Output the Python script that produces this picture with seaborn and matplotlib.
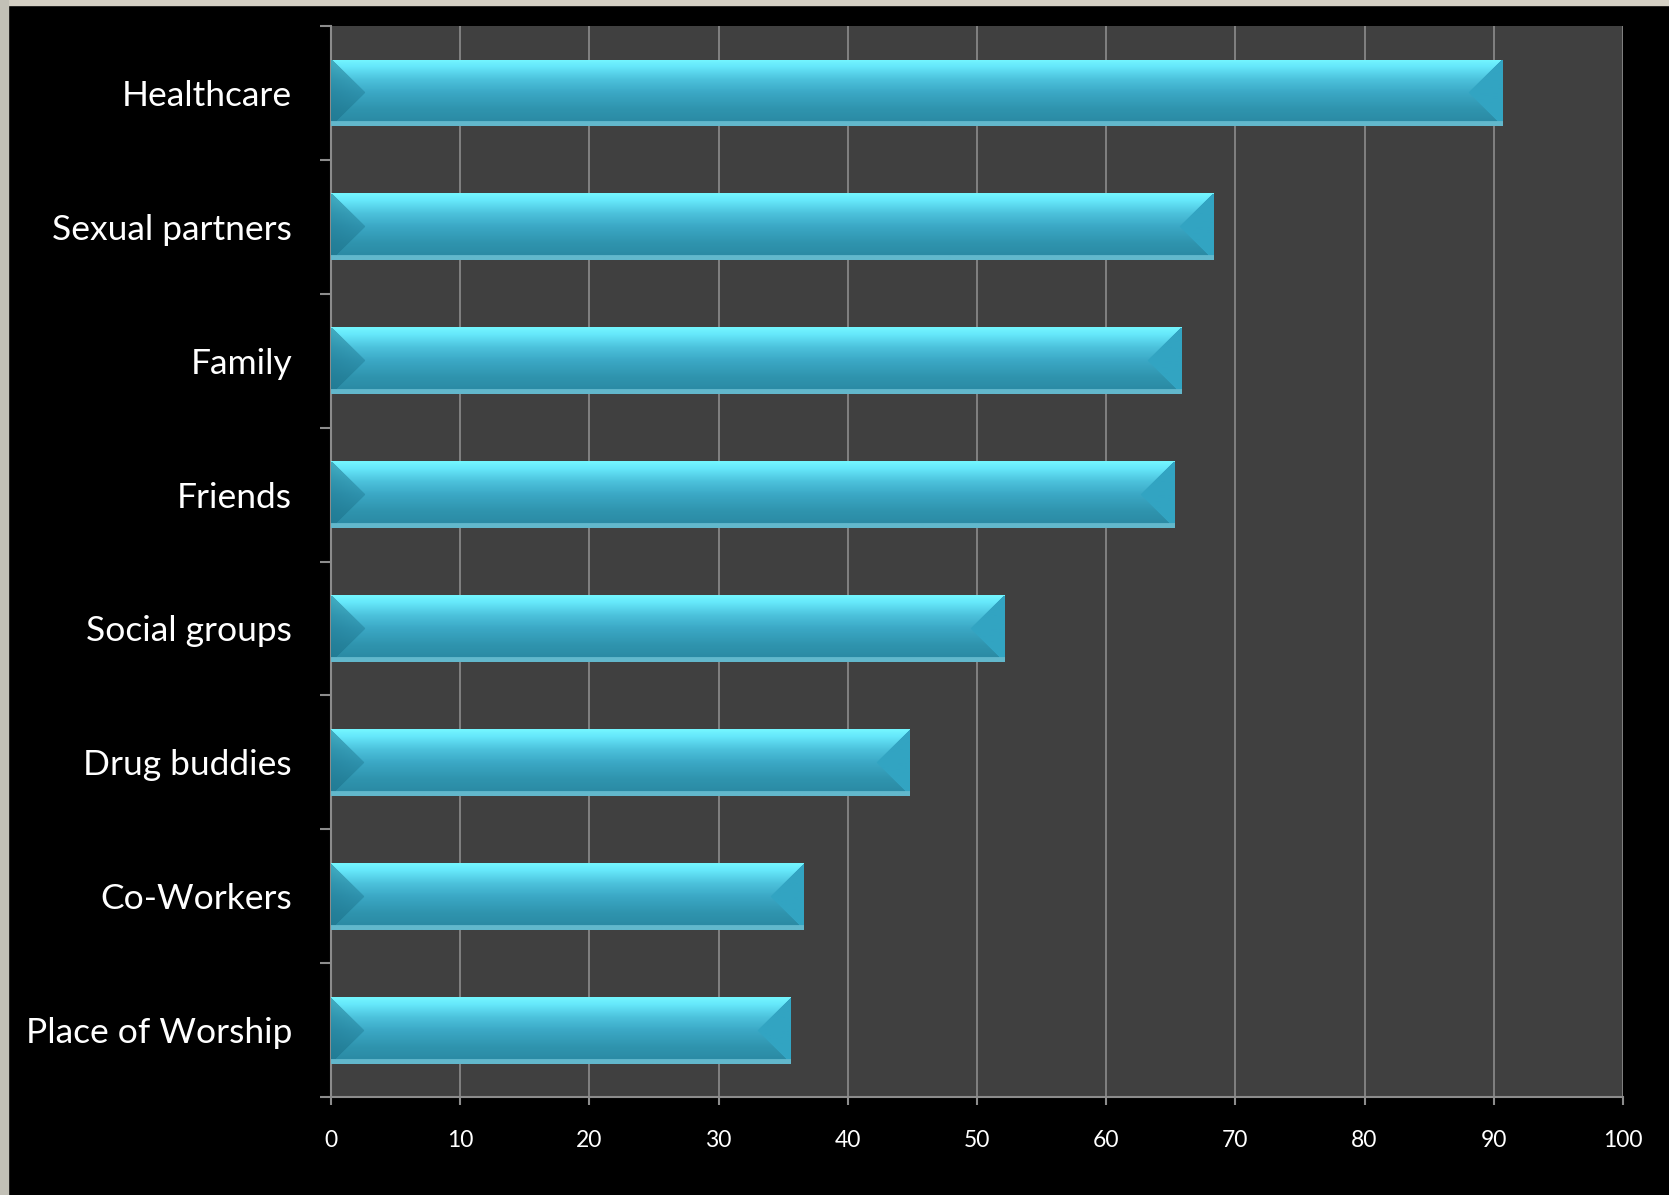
import numpy as np
import pandas as pd
import matplotlib
matplotlib.use("Agg")
import matplotlib.pyplot as plt
from matplotlib.colors import LinearSegmentedColormap, to_rgb
from matplotlib.patches import Rectangle
import seaborn as sns

# values
categories = ["Healthcare", "Sexual partners", "Family", "Friends",
              "Social groups", "Drug buddies", "Co-Workers", "Place of Worship"]
values = [90.7, 68.3, 65.8, 65.3, 52.1, 44.8, 36.6, 35.6]
x_ticks = [0, 10, 20, 30, 40, 50, 60, 70, 80, 90, 100]

data = pd.DataFrame({"source": categories, "value": values})

sns.set_style("dark")
plt.rcParams["font.family"] = ["Lato", "DejaVu Sans"]

fig = plt.figure(figsize=(16.69, 11.95), dpi=100, facecolor="black")
ax = fig.add_axes([0.1983, 0.0820, 0.9724 - 0.1983, 0.9782 - 0.0820])
ax.set_facecolor("#404040")

sns.barplot(data=data, x="value", y="source", orient="h", width=0.5,
            color="#3aa7c4", ax=ax, zorder=2)

# vertical gradient used to fake the glossy bevel look
grad = LinearSegmentedColormap.from_list("bar", [
    (0.00, "#74f6ff"), (0.10, "#66e8fb"), (0.30, "#4cc2dc"),
    (0.50, "#3ba8c5"), (0.75, "#2f94ae"), (0.93, "#2b8ba5"),
    (0.94, "#62b8cc"), (1.00, "#62b8cc")])

xlim = (0, 100)
ylim = ax.get_ylim()
px_per_unit = 1292 / 100.0
for p in ax.patches:
    x0, y0 = p.get_x(), p.get_y()
    w, h = p.get_width(), p.get_height()
    nx = max(int(w * px_per_unit), 2)
    ny = 68
    v = np.linspace(0, 1, ny)[:, None]
    u = np.linspace(0, w, nx)[None, :]
    img = grad(np.repeat(v, nx, axis=1))[..., :3]
    d = 2.6
    tri = d * (1 - np.abs(2 * v - 1))
    left = (u < tri) & (v < 0.94)
    right = ((w - u) < tri) & (v < 0.94)
    dark = np.array(to_rgb("#1a6f88"))
    mix = np.clip(0.55 - 0.18 * (u / d), 0.3, 0.55)
    mix = np.broadcast_to(mix, (ny, nx))[..., None]
    img = np.where(left[..., None], img * (1 - mix) + dark * mix, img)
    img[right] = np.array(to_rgb("#32a4c2"))
    p.set_facecolor("none")
    p.set_edgecolor("none")
    im = ax.imshow(img, extent=(x0, x0 + w, y0 + h, y0), aspect="auto",
                   interpolation="bilinear", zorder=3)
    im.set_clip_path(p)

ax.set_xlim(xlim)
ax.set_ylim(ylim)

ax.set_xticks(x_ticks)
ax.set_xticklabels([str(t) for t in x_ticks])
ax.xaxis.grid(True, color="#8c8c8c", linewidth=1.2, zorder=0)
ax.yaxis.grid(False)
ax.set_axisbelow(True)

ax.set_yticks(range(len(categories)))
ax.set_yticklabels(categories)
ax.set_yticks(np.arange(-0.5, len(categories) + 0.5, 1), minor=True)
ax.tick_params(axis="y", which="major", length=0, pad=28, labelsize=25.5,
               labelcolor="white")
ax.tick_params(axis="y", which="minor", length=8, width=1.5, color="#8c8c8c",
               left=True)
ax.tick_params(axis="x", which="major", length=6, width=1.5, color="#8c8c8c",
               pad=18, labelsize=16.5, labelcolor="white", bottom=True)

ax.set_xlabel("")
ax.set_ylabel("")
for side in ["top", "right"]:
    ax.spines[side].set_visible(False)
for side in ["left", "bottom"]:
    ax.spines[side].set_visible(True)
    ax.spines[side].set_color("#8c8c8c")
    ax.spines[side].set_linewidth(1.5)

# slide frame edge at top and left
fig.patches.append(Rectangle((0, 1 - 5 / 1195), 1, 5 / 1195,
                             transform=fig.transFigure, color="#d4d0c4"))
fig.patches.append(Rectangle((0, 0), 8 / 1669, 1,
                             transform=fig.transFigure, color="#c2c0b6"))

fig.savefig("out.png", dpi=100, facecolor="black")
